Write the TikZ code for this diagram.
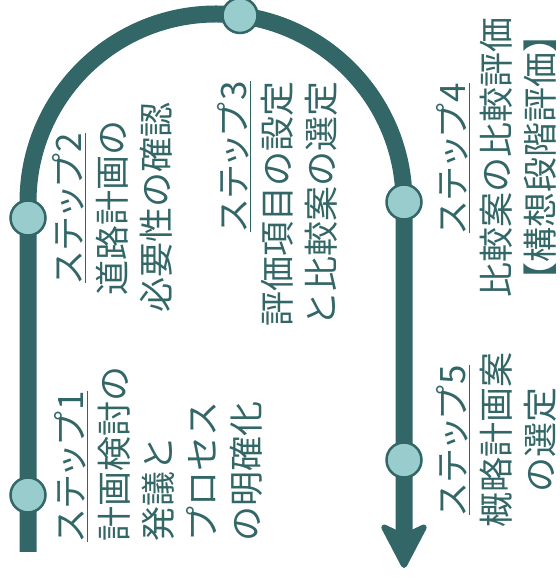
\documentclass[tikz,border=0pt]{standalone}
\usepackage{fontspec}
\newfontfamily\jp{Noto Sans CJK JP}
\newfontfamily\jpstep[RawFeature=+palt,LetterSpace=6]{Noto Sans CJK JP}
\usetikzlibrary{arrows.meta}
\definecolor{teal1}{HTML}{336666}
\definecolor{lteal}{HTML}{99CCCC}
\newcommand\steptitle[1]{\underline{{\jpstep #1}}}
\begin{document}
\begin{tikzpicture}[x=1pt,y=1pt,
  route/.style={draw=teal1, line width=17pt},
  stepdot/.style={circle, draw=teal1, fill=lteal, line width=2.5pt, minimum size=35pt, inner sep=0pt},
  steptext/.style={rotate=90, text=teal1, font=\jp\fontsize{35pt}{44pt}\selectfont, inner sep=0pt}]
\useasboundingbox (0,0) rectangle (559,580);
\coordinate (start) at (28,28);
\coordinate (bendL) at (28,378);
\coordinate (bendR) at (404,378);
\coordinate (end) at (404,12);
\draw[route, -{Stealth[length=50pt,width=52pt,inset=12pt,round,line width=6pt]}] (start) -- (bendL) arc[start angle=180, end angle=0, radius=188] -- (end);
\node[stepdot] (c1) at (28,85) {};
\node[stepdot] (c2) at (28,362) {};
\node[stepdot] (c3) at (240,564.5) {};
\node[stepdot] (c4) at (404,378) {};
\node[stepdot] (c5) at (404,120) {};
\node[steptext, anchor=west, align=left] (s1) at (158.5,38) {\steptitle{ステップ1}\\計画検討の\\発議と\\プロセス\\の明確化};
\node[steptext, align=center] (s2) at (112.5,372) {\steptitle{ステップ2}\\道路計画の\\必要性の確認};
\node[steptext, anchor=east, align=right] (s3) at (277.5,499) {\steptitle{ステップ3}\\評価項目の設定\\と比較案の選定};
\node[steptext, align=center] (s4) at (496.5,422) {\steptitle{ステップ4}\\比較案の比較評価\\【構想段階評価】};
\node[steptext, align=center] (s5) at (496.5,140) {\steptitle{ステップ5}\\概略計画案\\の選定};
\end{tikzpicture}
\end{document}
